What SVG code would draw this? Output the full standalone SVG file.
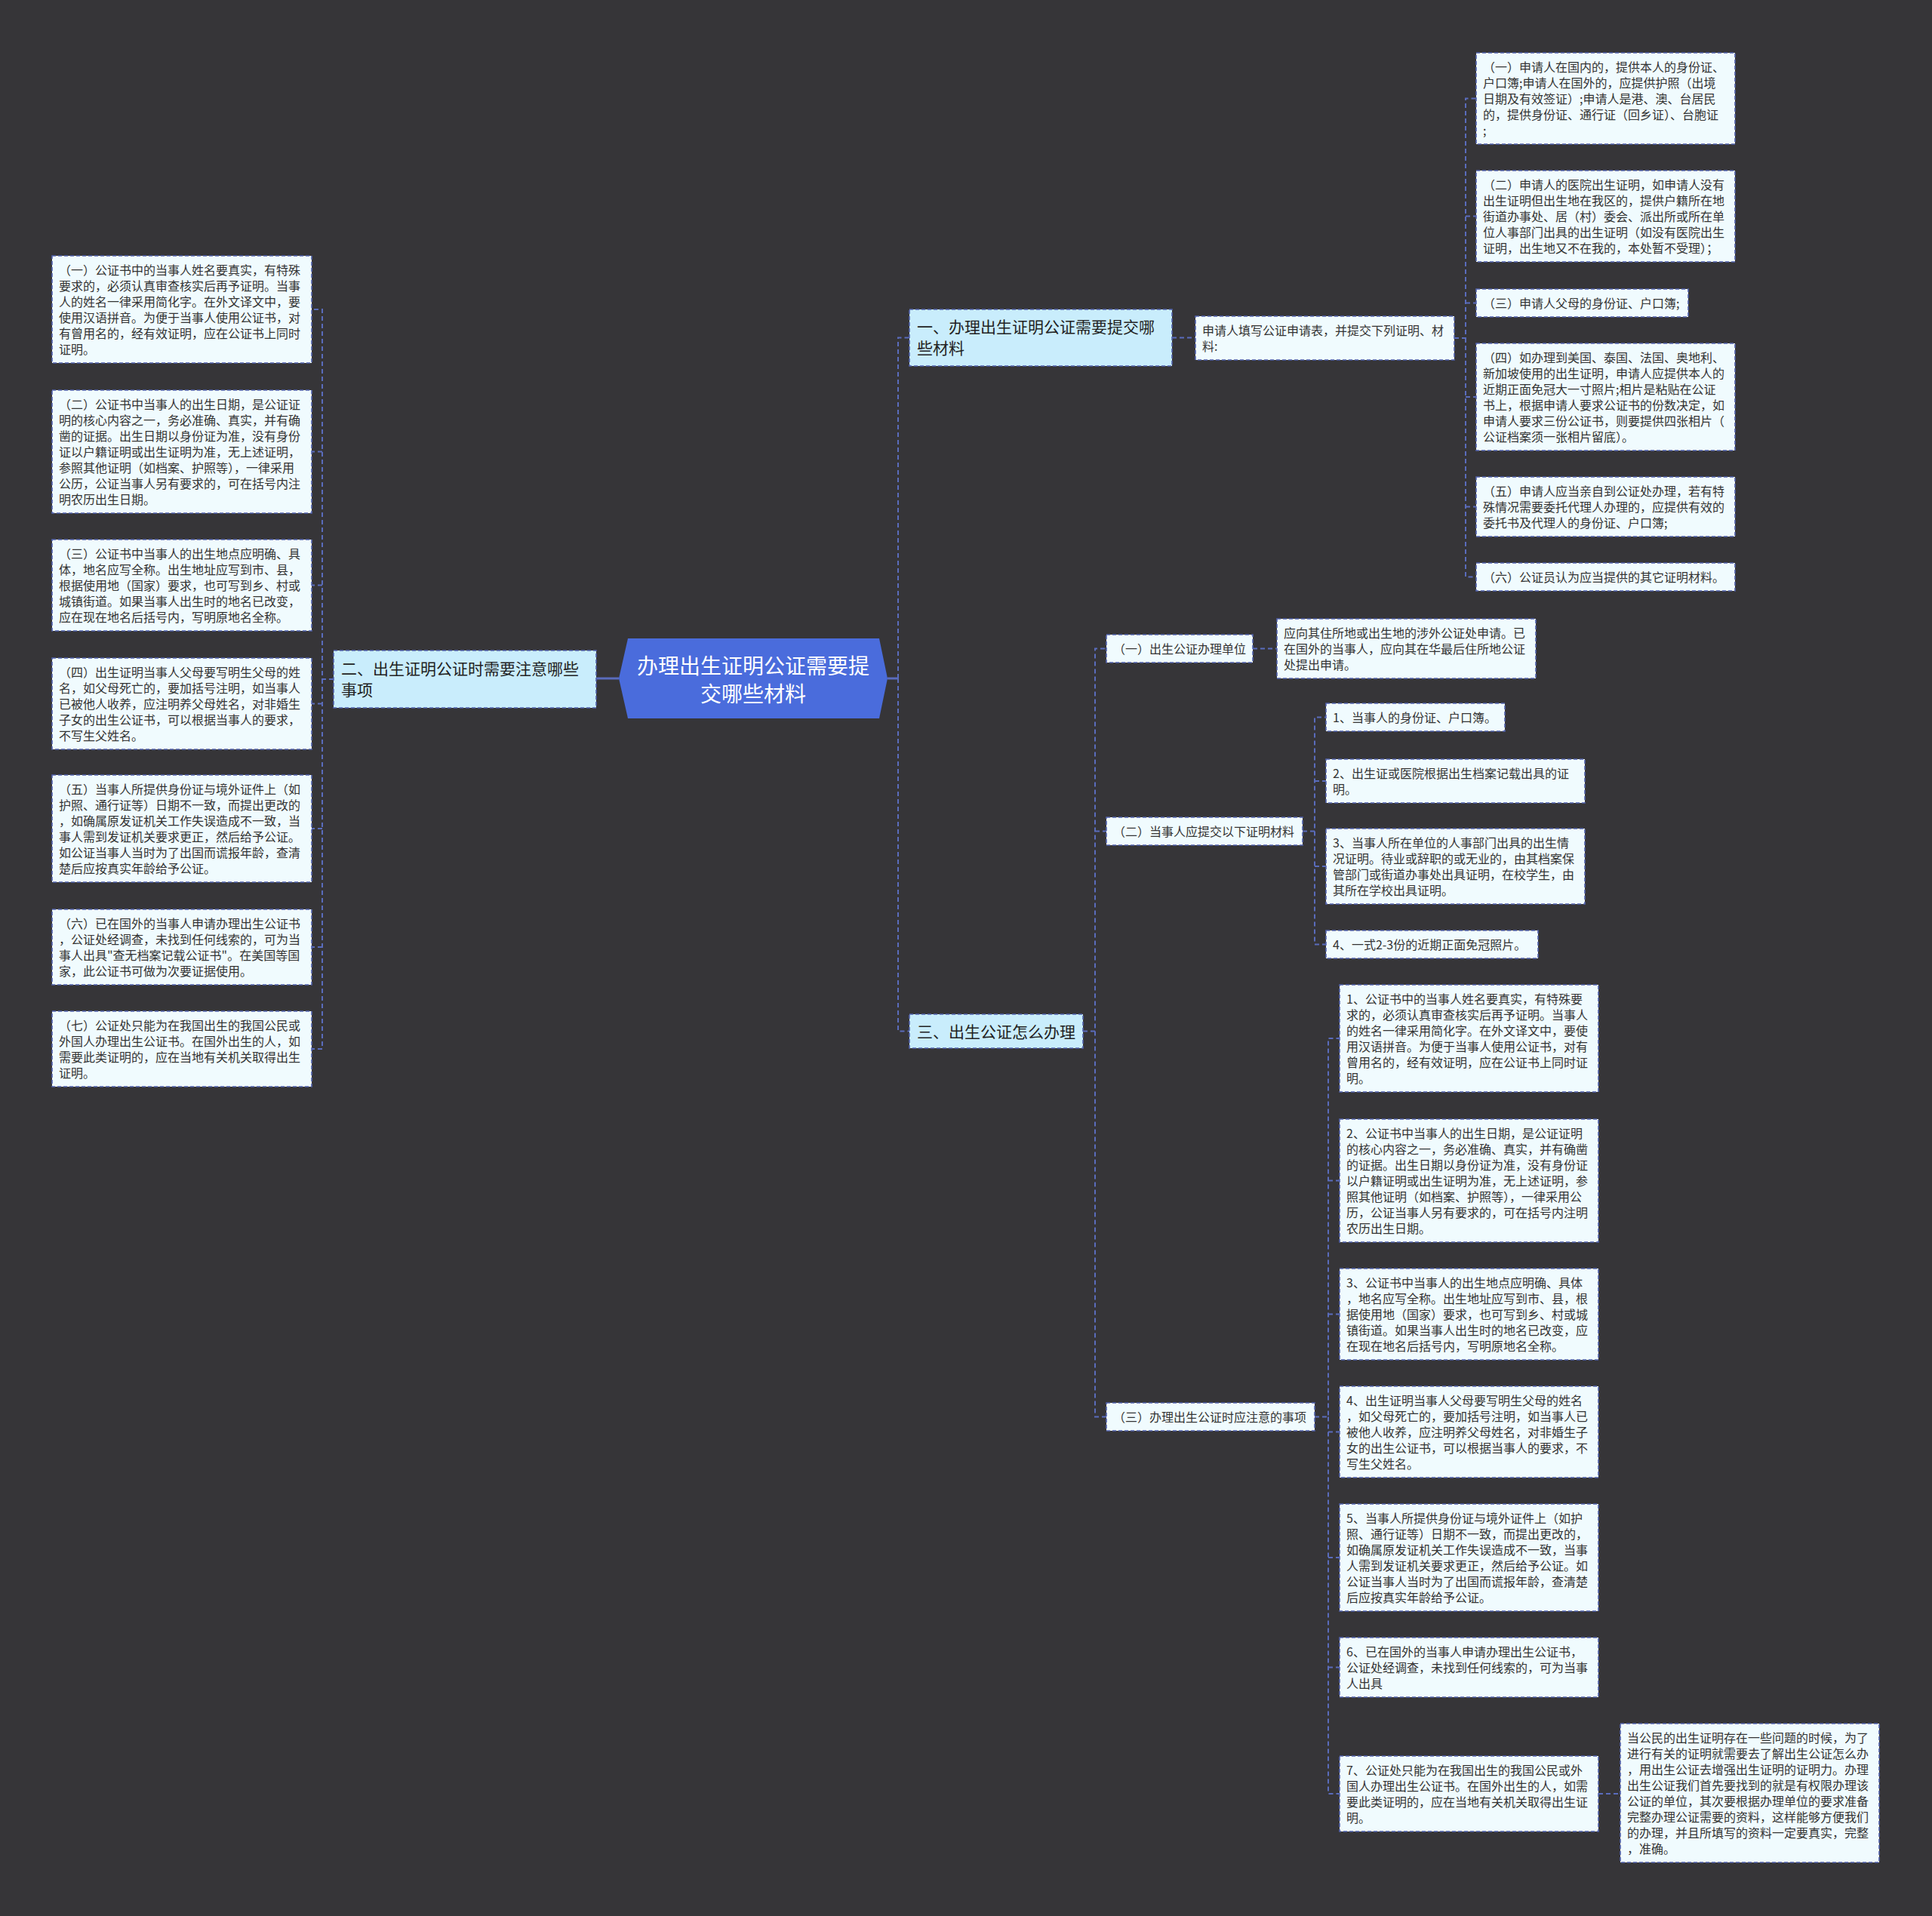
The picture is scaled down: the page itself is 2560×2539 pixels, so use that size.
<svg xmlns="http://www.w3.org/2000/svg" width="2560" height="2539" viewBox="0 0 2560 2539">
<style>
.bg{fill:#363538}
.d{fill:#f0fbfe;stroke:#5262ac;stroke-width:1.6;stroke-dasharray:5 3}
.b{fill:#c9edfc;stroke:#5262ac;stroke-width:1.6;stroke-dasharray:5 3}
.c{fill:#4a6cdc}
text{font-family:"Noto Sans CJK SC","Noto Sans",sans-serif;dominant-baseline:central;transform:translateY(-1.5px)}
.t{font-size:16px;fill:#333333}
.bt{font-size:21px;fill:#222222}
.ct{font-size:28px;fill:#ffffff;text-anchor:middle}
.conn{fill:none;stroke:#5a6cbc;stroke-width:2;stroke-dasharray:6 4}
.solid{fill:none;stroke:#5a6cbc;stroke-width:3}
</style>
<rect class="bg" x="0" y="0" width="2560" height="2539"/>

<g id="connectors">
<path class="solid" d="M820,899 H790 M1176,899 H1190"/>
<path class="conn" d="M1190,899 V447.5 H1205 M1190,899 V1366.5 H1205"/>
<path class="conn" d="M442,900 H427 V410 H413 M427,900 V1390 H413 M427,598.5 H413 M427,775.5 H413 M427,932.5 H413 M427,1098 H413 M427,1255 H413"/>
<path class="conn" d="M1553,447.5 H1584"/>
<path class="conn" d="M1927,448 H1942 V130.5 H1956 M1942,448 V764.5 H1956 M1942,286.5 H1956 M1942,401.5 H1956 M1942,526 H1956 M1942,671.5 H1956"/>
<path class="conn" d="M1435,1366.5 H1451 V859.5 H1466 M1451,1366.5 V1877.5 H1466 M1451,1101.5 H1466"/>
<path class="conn" d="M1660,859.5 H1692"/>
<path class="conn" d="M1726,1101.5 H1742 V950.5 H1757 M1742,1101.5 V1251.5 H1757 M1742,1035 H1757 M1742,1148 H1757"/>
<path class="conn" d="M1742,1877.5 H1760 V1376 H1775 M1760,1877.5 V2377 H1775 M1760,1564.5 H1775 M1760,1741.5 H1775 M1760,1897.5 H1775 M1760,2064 H1775 M1760,2209.5 H1775"/>
<path class="conn" d="M2118,2377 H2147"/>
</g>

<g id="center">
<polygon class="c" points="832,846 1165,846 1176,899 1165,952 832,952 820,899"/>
<text class="ct" x="998" y="882">办理出生证明公证需要提</text>
<text class="ct" x="998" y="919">交哪些材料</text>
</g>

<g id="branch1">
<rect class="b" x="1205" y="410" width="348" height="75"/>
<text class="bt" x="1215" y="433.5">一、办理出生证明公证需要提交哪</text>
<text class="bt" x="1215" y="461.5">些材料</text>
</g>

<g id="branch2">
<rect class="b" x="442" y="862" width="348" height="76"/>
<text class="bt" x="452" y="886">二、出生证明公证时需要注意哪些</text>
<text class="bt" x="452" y="914">事项</text>
</g>

<g id="branch3">
<rect class="b" x="1205" y="1344" width="230" height="45"/>
<text class="bt" x="1215" y="1367.5">三、出生公证怎么办理</text>
</g>

<g id="intro">
<rect class="d" x="1584" y="419" width="343" height="58"/>
<text class="t" x="1593" y="438.5">申请人填写公证申请表，并提交下列证明、材</text>
<text class="t" x="1593" y="459.5">料:</text>
</g>

<g id="m1">
<rect class="d" x="1956" y="70" width="343" height="121"/>
<text class="t" x="1965" y="89.5">（一）申请人在国内的，提供本人的身份证、</text>
<text class="t" x="1965" y="110.5">户口簿;申请人在国外的，应提供护照（出境</text>
<text class="t" x="1965" y="131.5">日期及有效签证）;申请人是港、澳、台居民</text>
<text class="t" x="1965" y="152.5">的，提供身份证、通行证（回乡证）、台胞证</text>
<text class="t" x="1965" y="173.5">;</text>
</g>
<g id="m2">
<rect class="d" x="1956" y="226" width="343" height="121"/>
<text class="t" x="1965" y="245.5">（二）申请人的医院出生证明，如申请人没有</text>
<text class="t" x="1965" y="266.5">出生证明但出生地在我区的，提供户籍所在地</text>
<text class="t" x="1965" y="287.5">街道办事处、居（村）委会、派出所或所在单</text>
<text class="t" x="1965" y="308.5">位人事部门出具的出生证明（如没有医院出生</text>
<text class="t" x="1965" y="329.5">证明，出生地又不在我的，本处暂不受理）；</text>
</g>
<g id="m3">
<rect class="d" x="1956" y="383" width="281" height="37"/>
<text class="t" x="1965" y="402.5">（三）申请人父母的身份证、户口簿;</text>
</g>
<g id="m4">
<rect class="d" x="1956" y="455" width="343" height="142"/>
<text class="t" x="1965" y="474.5">（四）如办理到美国、泰国、法国、奥地利、</text>
<text class="t" x="1965" y="495.5">新加坡使用的出生证明，申请人应提供本人的</text>
<text class="t" x="1965" y="516.5">近期正面免冠大一寸照片;相片是粘贴在公证</text>
<text class="t" x="1965" y="537.5">书上，根据申请人要求公证书的份数决定，如</text>
<text class="t" x="1965" y="558.5">申请人要求三份公证书，则要提供四张相片（</text>
<text class="t" x="1965" y="579.5">公证档案须一张相片留底）。</text>
</g>
<g id="m5">
<rect class="d" x="1956" y="632" width="343" height="79"/>
<text class="t" x="1965" y="651.5">（五）申请人应当亲自到公证处办理，若有特</text>
<text class="t" x="1965" y="672.5">殊情况需要委托代理人办理的，应提供有效的</text>
<text class="t" x="1965" y="693.5">委托书及代理人的身份证、户口簿;</text>
</g>
<g id="m6">
<rect class="d" x="1956" y="746" width="343" height="37"/>
<text class="t" x="1965" y="765.5">（六）公证员认为应当提供的其它证明材料。</text>
</g>

<g id="l1">
<rect class="d" x="69" y="339" width="344" height="142"/>
<text class="t" x="78" y="358.5">（一）公证书中的当事人姓名要真实，有特殊</text>
<text class="t" x="78" y="379.5">要求的，必须认真审查核实后再予证明。当事</text>
<text class="t" x="78" y="400.5">人的姓名一律采用简化字。在外文译文中，要</text>
<text class="t" x="78" y="421.5">使用汉语拼音。为便于当事人使用公证书，对</text>
<text class="t" x="78" y="442.5">有曾用名的，经有效证明，应在公证书上同时</text>
<text class="t" x="78" y="463.5">证明。</text>
</g>
<g id="l2">
<rect class="d" x="69" y="517" width="344" height="163"/>
<text class="t" x="78" y="536.5">（二）公证书中当事人的出生日期，是公证证</text>
<text class="t" x="78" y="557.5">明的核心内容之一，务必准确、真实，并有确</text>
<text class="t" x="78" y="578.5">凿的证据。出生日期以身份证为准，没有身份</text>
<text class="t" x="78" y="599.5">证以户籍证明或出生证明为准，无上述证明，</text>
<text class="t" x="78" y="620.5">参照其他证明（如档案、护照等），一律采用</text>
<text class="t" x="78" y="641.5">公历，公证当事人另有要求的，可在括号内注</text>
<text class="t" x="78" y="662.5">明农历出生日期。</text>
</g>
<g id="l3">
<rect class="d" x="69" y="715" width="344" height="121"/>
<text class="t" x="78" y="734.5">（三）公证书中当事人的出生地点应明确、具</text>
<text class="t" x="78" y="755.5">体，地名应写全称。出生地址应写到市、县，</text>
<text class="t" x="78" y="776.5">根据使用地（国家）要求，也可写到乡、村或</text>
<text class="t" x="78" y="797.5">城镇街道。如果当事人出生时的地名已改变，</text>
<text class="t" x="78" y="818.5">应在现在地名后括号内，写明原地名全称。</text>
</g>
<g id="l4">
<rect class="d" x="69" y="872" width="344" height="121"/>
<text class="t" x="78" y="891.5">（四）出生证明当事人父母要写明生父母的姓</text>
<text class="t" x="78" y="912.5">名，如父母死亡的，要加括号注明，如当事人</text>
<text class="t" x="78" y="933.5">已被他人收养，应注明养父母姓名，对非婚生</text>
<text class="t" x="78" y="954.5">子女的出生公证书，可以根据当事人的要求，</text>
<text class="t" x="78" y="975.5">不写生父姓名。</text>
</g>
<g id="l5">
<rect class="d" x="69" y="1027" width="344" height="142"/>
<text class="t" x="78" y="1046.5">（五）当事人所提供身份证与境外证件上（如</text>
<text class="t" x="78" y="1067.5">护照、通行证等）日期不一致，而提出更改的</text>
<text class="t" x="78" y="1088.5">，如确属原发证机关工作失误造成不一致，当</text>
<text class="t" x="78" y="1109.5">事人需到发证机关要求更正，然后给予公证。</text>
<text class="t" x="78" y="1130.5">如公证当事人当时为了出国而谎报年龄，查清</text>
<text class="t" x="78" y="1151.5">楚后应按真实年龄给予公证。</text>
</g>
<g id="l6">
<rect class="d" x="69" y="1205" width="344" height="100"/>
<text class="t" x="78" y="1224.5">（六）已在国外的当事人申请办理出生公证书</text>
<text class="t" x="78" y="1245.5">，公证处经调查，未找到任何线索的，可为当</text>
<text class="t" x="78" y="1266.5">事人出具"查无档案记载公证书"。在美国等国</text>
<text class="t" x="78" y="1287.5">家，此公证书可做为次要证据使用。</text>
</g>
<g id="l7">
<rect class="d" x="69" y="1340" width="344" height="100"/>
<text class="t" x="78" y="1359.5">（七）公证处只能为在我国出生的我国公民或</text>
<text class="t" x="78" y="1380.5">外国人办理出生公证书。在国外出生的人，如</text>
<text class="t" x="78" y="1401.5">需要此类证明的，应在当地有关机关取得出生</text>
<text class="t" x="78" y="1422.5">证明。</text>
</g>

<g id="s1">
<rect class="d" x="1466" y="841" width="194" height="37"/>
<text class="t" x="1475" y="860.5">（一）出生公证办理单位</text>
</g>
<g id="s1c">
<rect class="d" x="1692" y="820" width="343" height="79"/>
<text class="t" x="1701" y="839.5">应向其住所地或出生地的涉外公证处申请。已</text>
<text class="t" x="1701" y="860.5">在国外的当事人，应向其在华最后住所地公证</text>
<text class="t" x="1701" y="881.5">处提出申请。</text>
</g>
<g id="s2">
<rect class="d" x="1466" y="1083" width="260" height="37"/>
<text class="t" x="1475" y="1102.5">（二）当事人应提交以下证明材料</text>
</g>
<g id="s2a">
<rect class="d" x="1757" y="932" width="237" height="37"/>
<text class="t" x="1766" y="951.5">1、当事人的身份证、户口簿。</text>
</g>
<g id="s2b">
<rect class="d" x="1757" y="1006" width="343" height="58"/>
<text class="t" x="1766" y="1025.5">2、出生证或医院根据出生档案记载出具的证</text>
<text class="t" x="1766" y="1046.5">明。</text>
</g>
<g id="s2c">
<rect class="d" x="1757" y="1098" width="343" height="100"/>
<text class="t" x="1766" y="1117.5">3、当事人所在单位的人事部门出具的出生情</text>
<text class="t" x="1766" y="1138.5">况证明。待业或辞职的或无业的，由其档案保</text>
<text class="t" x="1766" y="1159.5">管部门或街道办事处出具证明，在校学生，由</text>
<text class="t" x="1766" y="1180.5">其所在学校出具证明。</text>
</g>
<g id="s2d">
<rect class="d" x="1757" y="1233" width="281" height="37"/>
<text class="t" x="1766" y="1252.5">4、一式2-3份的近期正面免冠照片。</text>
</g>
<g id="s3">
<rect class="d" x="1466" y="1859" width="276" height="37"/>
<text class="t" x="1475" y="1878.5">（三）办理出生公证时应注意的事项</text>
</g>
<g id="r1">
<rect class="d" x="1775" y="1305" width="343" height="142"/>
<text class="t" x="1784" y="1324.5">1、公证书中的当事人姓名要真实，有特殊要</text>
<text class="t" x="1784" y="1345.5">求的，必须认真审查核实后再予证明。当事人</text>
<text class="t" x="1784" y="1366.5">的姓名一律采用简化字。在外文译文中，要使</text>
<text class="t" x="1784" y="1387.5">用汉语拼音。为便于当事人使用公证书，对有</text>
<text class="t" x="1784" y="1408.5">曾用名的，经有效证明，应在公证书上同时证</text>
<text class="t" x="1784" y="1429.5">明。</text>
</g>
<g id="r2">
<rect class="d" x="1775" y="1483" width="343" height="163"/>
<text class="t" x="1784" y="1502.5">2、公证书中当事人的出生日期，是公证证明</text>
<text class="t" x="1784" y="1523.5">的核心内容之一，务必准确、真实，并有确凿</text>
<text class="t" x="1784" y="1544.5">的证据。出生日期以身份证为准，没有身份证</text>
<text class="t" x="1784" y="1565.5">以户籍证明或出生证明为准，无上述证明，参</text>
<text class="t" x="1784" y="1586.5">照其他证明（如档案、护照等），一律采用公</text>
<text class="t" x="1784" y="1607.5">历，公证当事人另有要求的，可在括号内注明</text>
<text class="t" x="1784" y="1628.5">农历出生日期。</text>
</g>
<g id="r3">
<rect class="d" x="1775" y="1681" width="343" height="121"/>
<text class="t" x="1784" y="1700.5">3、公证书中当事人的出生地点应明确、具体</text>
<text class="t" x="1784" y="1721.5">，地名应写全称。出生地址应写到市、县，根</text>
<text class="t" x="1784" y="1742.5">据使用地（国家）要求，也可写到乡、村或城</text>
<text class="t" x="1784" y="1763.5">镇街道。如果当事人出生时的地名已改变，应</text>
<text class="t" x="1784" y="1784.5">在现在地名后括号内，写明原地名全称。</text>
</g>
<g id="r4">
<rect class="d" x="1775" y="1837" width="343" height="121"/>
<text class="t" x="1784" y="1856.5">4、出生证明当事人父母要写明生父母的姓名</text>
<text class="t" x="1784" y="1877.5">，如父母死亡的，要加括号注明，如当事人已</text>
<text class="t" x="1784" y="1898.5">被他人收养，应注明养父母姓名，对非婚生子</text>
<text class="t" x="1784" y="1919.5">女的出生公证书，可以根据当事人的要求，不</text>
<text class="t" x="1784" y="1940.5">写生父姓名。</text>
</g>
<g id="r5">
<rect class="d" x="1775" y="1993" width="343" height="142"/>
<text class="t" x="1784" y="2012.5">5、当事人所提供身份证与境外证件上（如护</text>
<text class="t" x="1784" y="2033.5">照、通行证等）日期不一致，而提出更改的，</text>
<text class="t" x="1784" y="2054.5">如确属原发证机关工作失误造成不一致，当事</text>
<text class="t" x="1784" y="2075.5">人需到发证机关要求更正，然后给予公证。如</text>
<text class="t" x="1784" y="2096.5">公证当事人当时为了出国而谎报年龄，查清楚</text>
<text class="t" x="1784" y="2117.5">后应按真实年龄给予公证。</text>
</g>
<g id="r6">
<rect class="d" x="1775" y="2170" width="343" height="79"/>
<text class="t" x="1784" y="2189.5">6、已在国外的当事人申请办理出生公证书，</text>
<text class="t" x="1784" y="2210.5">公证处经调查，未找到任何线索的，可为当事</text>
<text class="t" x="1784" y="2231.5">人出具</text>
</g>
<g id="r7">
<rect class="d" x="1775" y="2327" width="343" height="100"/>
<text class="t" x="1784" y="2346.5">7、公证处只能为在我国出生的我国公民或外</text>
<text class="t" x="1784" y="2367.5">国人办理出生公证书。在国外出生的人，如需</text>
<text class="t" x="1784" y="2388.5">要此类证明的，应在当地有关机关取得出生证</text>
<text class="t" x="1784" y="2409.5">明。</text>
</g>
<g id="summary">
<rect class="d" x="2147" y="2284" width="343" height="184"/>
<text class="t" x="2156" y="2303.5">当公民的出生证明存在一些问题的时候，为了</text>
<text class="t" x="2156" y="2324.5">进行有关的证明就需要去了解出生公证怎么办</text>
<text class="t" x="2156" y="2345.5">，用出生公证去增强出生证明的证明力。办理</text>
<text class="t" x="2156" y="2366.5">出生公证我们首先要找到的就是有权限办理该</text>
<text class="t" x="2156" y="2387.5">公证的单位，其次要根据办理单位的要求准备</text>
<text class="t" x="2156" y="2408.5">完整办理公证需要的资料，这样能够方便我们</text>
<text class="t" x="2156" y="2429.5">的办理，并且所填写的资料一定要真实，完整</text>
<text class="t" x="2156" y="2450.5">，准确。</text>
</g>
</svg>
